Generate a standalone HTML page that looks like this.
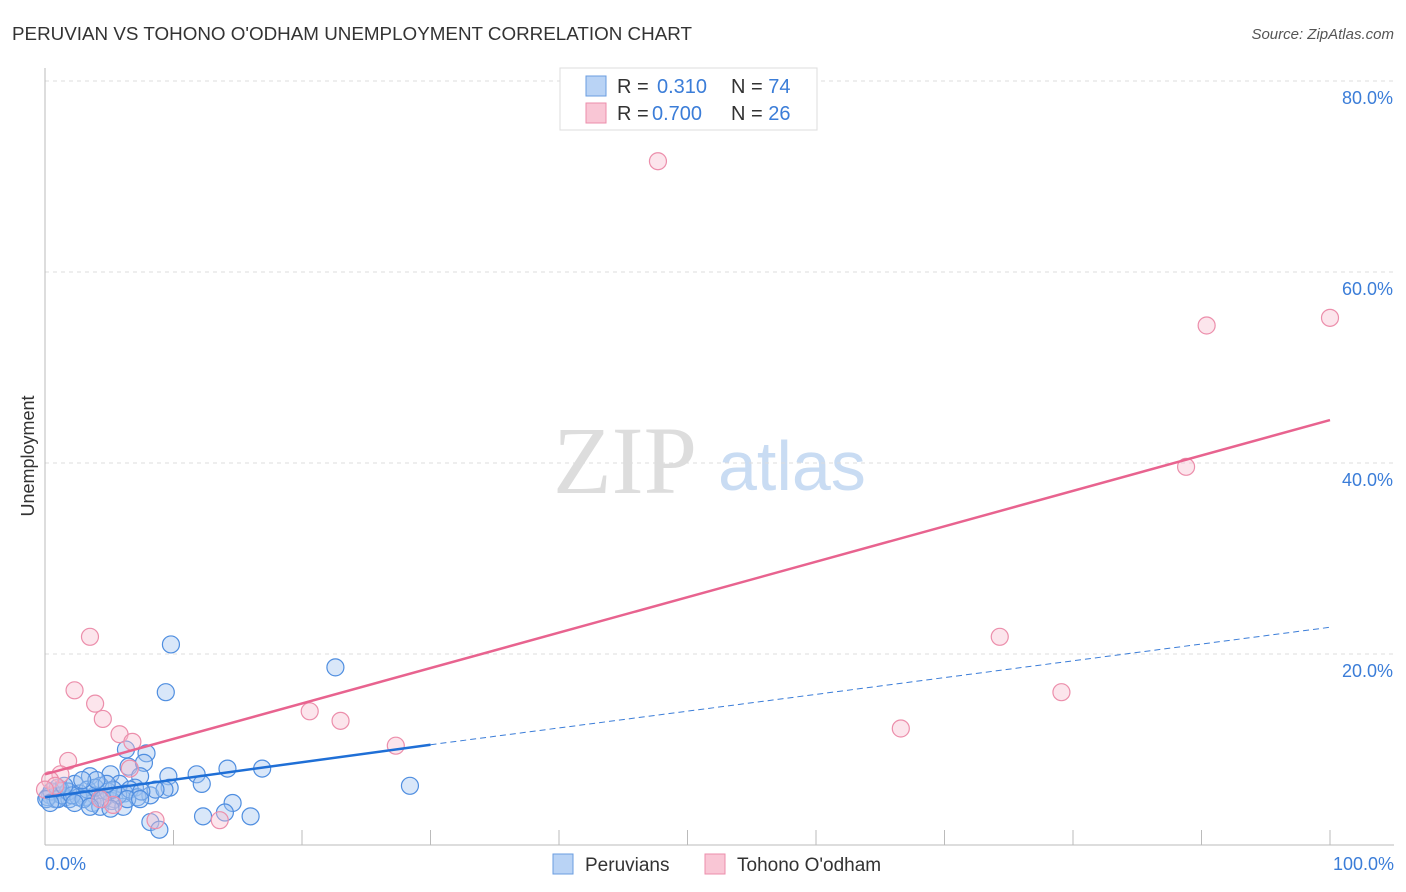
<!DOCTYPE html>
<html><head><meta charset="utf-8"><style>
body{margin:0;background:#fff;font-family:"Liberation Sans",sans-serif}
svg{display:block}
</style></head><body>
<svg width="1406" height="892" xmlns="http://www.w3.org/2000/svg">
<text x="12" y="40" font-size="18" fill="#333" textLength="680" lengthAdjust="spacingAndGlyphs">PERUVIAN VS TOHONO O'ODHAM UNEMPLOYMENT CORRELATION CHART</text>
<text x="1394" y="39" font-size="15" fill="#555" text-anchor="end" font-style="italic">Source: ZipAtlas.com</text>
<text x="553" y="493" font-size="96" fill="#ddd" font-family="Liberation Serif,serif">ZIP</text>
<text x="718" y="490" font-size="70" fill="#c9dcf3">atlas</text>
<g id="grid"></g>
<line x1="45" y1="68" x2="45" y2="845" stroke="#bbb"/>
<line x1="45" y1="845" x2="1394" y2="845" stroke="#bbb"/>
<text transform="translate(34,456) rotate(-90)" font-size="18" fill="#333" text-anchor="middle">Unemployment</text>
<text x="45" y="870" font-size="18" fill="#3b7dd8">0.0%</text>
<text x="1394" y="870" font-size="18" fill="#3b7dd8" text-anchor="end">100.0%</text>
<g id="pts"></g>
<g id="lines"></g>
<g>
<rect x="560" y="68" width="257" height="62" fill="#fff" stroke="#ddd"/>
<rect x="586" y="76" width="20" height="20" fill="#b9d3f5" stroke="#6a9de0"/>
<rect x="586" y="103" width="20" height="20" fill="#f9c6d5" stroke="#ec8eab"/>
<text x="617" y="93" font-size="20" fill="#333">R = <tspan x="657" fill="#3b7dd8">0.310</tspan><tspan x="731">N = </tspan><tspan fill="#3b7dd8">74</tspan></text>
<text x="617" y="120" font-size="20" fill="#333">R = <tspan x="652" fill="#3b7dd8">0.700</tspan><tspan x="731">N = </tspan><tspan fill="#3b7dd8">26</tspan></text>
</g>
<g>
<rect x="553" y="854" width="20" height="20" fill="#b9d3f5" stroke="#6a9de0"/>
<text x="585" y="871" font-size="19" fill="#333">Peruvians</text>
<rect x="705" y="854" width="20" height="20" fill="#f9c6d5" stroke="#ec8eab"/>
<text x="737" y="871" font-size="19" fill="#333">Tohono O'odham</text>
</g>
</svg>
<script>
const yTicks=[20,40,60,80];
const xTicks=[0,10,20,30,40,50,60,70,80,90,100];
const blueX=[9.8,22.6,9.4,6.3,7.9,6.5,7.7,3.5,5.1,7.4,9.6,11.8,14.2,16.9,12.2,28.4,9.7,2.3,4.3,5.8,7.0,1.2,2.7,3.9,4.7,5.4,6.2,8.2,9.3,0.4,0.8,1.6,1.9,3.1,3.7,4.3,5.2,6.1,0.2,0.5,1.3,1.8,2.6,3.3,3.9,4.9,5.7,6.6,7.2,8.6,14.6,14.0,12.3,16.0,8.2,8.9,0.1,1.0,2.1,3.0,4.5,5.3,6.4,7.5,4.8,4.0,2.9,1.0,1.5,2.3,3.5,5.1,7.4,0.4];
const blueY=[21.0,18.6,16.0,10.0,9.6,8.2,8.6,7.2,7.4,7.2,7.2,7.4,8.0,8.0,6.4,6.2,6.0,6.4,6.2,6.4,6.0,5.8,5.4,5.2,5.0,4.8,5.4,5.2,5.8,5.2,4.8,5.0,4.8,5.0,4.4,4.0,4.6,4.0,5.0,5.6,5.2,5.6,5.0,5.8,6.0,5.6,5.2,5.8,5.0,5.8,4.4,3.4,3.0,3.0,2.4,1.6,4.8,4.8,5.2,4.8,4.8,5.8,4.8,5.6,6.4,6.8,6.8,6.0,6.2,4.4,4.0,3.8,4.8,4.4];
const pinkX=[3.5,47.7,2.3,3.9,4.5,5.8,6.8,1.8,1.2,0.4,0.8,20.6,23.0,27.3,5.3,8.6,13.6,90.4,100,88.8,74.3,79.1,66.6,0,4.3,6.6];
const pinkY=[21.8,71.6,16.2,14.8,13.2,11.6,10.8,8.8,7.4,6.8,6.2,14.0,13.0,10.4,4.2,2.6,2.6,54.4,55.2,39.6,21.8,16.0,12.2,5.8,4.8,8.0];
const blueLine=[[0,5.0],[30,10.5]];
const blueDash=[[30,10.5],[100,22.8]];
const pinkLine=[[0,7.4],[100,44.5]];
const X=v=>45+v*12.85, Y=v=>845-v*9.55;
const NS="http://www.w3.org/2000/svg";
function mk(t,a,p){const e=document.createElementNS(NS,t);for(const k in a)e.setAttribute(k,a[k]);p.appendChild(e);return e;}
const grid=document.getElementById('grid');
yTicks.forEach(t=>{
 const l=mk('line',{x1:45,x2:1394,y1:Y(t),y2:Y(t),stroke:'#ddd','stroke-dasharray':'4,4'},grid);
 
 
 const tx=mk('text',{x:1393,y:Y(t)+23,'font-size':18,fill:'#3b7dd8','text-anchor':'end'},grid);
 tx.textContent=t.toFixed(1)+'%';
 
 
});
xTicks.forEach(t=>{
 const l=mk('line',{x1:X(t),x2:X(t),y1:830,y2:845,stroke:'#bbb'},grid);
 
 
});
const pts=document.getElementById('pts');
blueX.forEach((x,i)=>{
 const c=mk('circle',{cx:X(x),cy:Y(blueY[i]),r:8.5,fill:'rgba(160,195,240,0.4)',stroke:'#4f8ee0','stroke-width':1.2},pts);
 
 
});
pinkX.forEach((x,i)=>{
 const c=mk('circle',{cx:X(x),cy:Y(pinkY[i]),r:8.5,fill:'rgba(248,190,208,0.4)',stroke:'#ec8eab','stroke-width':1.2},pts);
 
 
});
const lines=document.getElementById('lines');
const pl=mk('line',{x1:X(pinkLine[0][0]),y1:Y(pinkLine[0][1]),x2:X(pinkLine[1][0]),y2:Y(pinkLine[1][1]),stroke:'#e8638f','stroke-width':2.5},lines);


const bl=mk('line',{x1:X(blueLine[0][0]),y1:Y(blueLine[0][1]),x2:X(blueLine[1][0]),y2:Y(blueLine[1][1]),stroke:'#1f6fd6','stroke-width':2.5},lines);


const bd=mk('line',{x1:X(blueDash[0][0]),y1:Y(blueDash[0][1]),x2:X(blueDash[1][0]),y2:Y(blueDash[1][1]),stroke:'#3b7dd8','stroke-width':1,'stroke-dasharray':'6,4'},lines);


</script>
</body></html>
